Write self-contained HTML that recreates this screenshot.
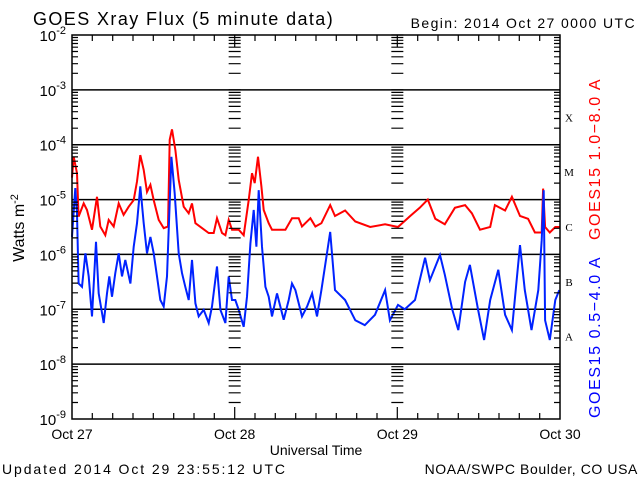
<!DOCTYPE html>
<html><head><meta charset="utf-8"><style>
body{margin:0;background:#fff;}
svg{display:block;font-family:"Liberation Sans",sans-serif;}
</style></head><body>
<svg id="chart" width="640" height="480" viewBox="0 0 640 480" xmlns="http://www.w3.org/2000/svg">
<rect width="640" height="480" fill="#fff"/>
<text x="33" y="25" font-size="18" letter-spacing="1.4">GOES Xray Flux (5 minute data)</text>
<text x="636" y="28" font-size="14" letter-spacing="1.4" text-anchor="end">Begin:  2014 Oct 27 0000 UTC</text>
<g id="grid"></g>
<g id="series"></g>
<g id="axes"></g>
<text transform="translate(24,228) rotate(-90)" font-size="16" text-anchor="middle">Watts m<tspan dy="-6" font-size="11">-2</tspan></text>
<text x="316" y="455" font-size="14" text-anchor="middle">Universal Time</text>
<text x="2" y="474" font-size="14" letter-spacing="1.9">Updated 2014 Oct 29 23:55:12 UTC</text>
<text x="638" y="474" font-size="14" letter-spacing="0.6" text-anchor="end">NOAA/SWPC Boulder, CO USA</text>
<text transform="translate(600,240) rotate(-90)" font-size="16" letter-spacing="1.6" fill="#ff0000">GOES15 1.0−8.0 A</text>
<text transform="translate(600,418) rotate(-90)" font-size="16" letter-spacing="1.6" fill="#0000ff">GOES15 0.5−4.0 A</text>
</svg>
<script>
const dayLabels = ["Oct 27","Oct 28","Oct 29","Oct 30"];
const decadeExps = [-2,-3,-4,-5,-6,-7,-8,-9];
const classLabels = ["X","M","C","B","A"];
const classExps = [-4,-5,-6,-7,-8];
const redHours = [0,0.25,0.74,0.98,1.72,2.21,2.95,3.69,4.18,4.92,5.41,6.15,6.89,7.62,8.36,9.1,9.59,10.08,10.58,11.07,11.56,12.05,12.79,13.53,14.17,14.41,14.76,15.25,15.74,16.48,17.22,17.71,18.2,19.18,20.17,20.9,21.4,22.13,22.63,23.12,23.61,24.59,25.33,26.07,26.56,26.95,27.45,27.94,28.28,29.02,29.51,30.5,31.48,32.46,33.45,33.94,35.17,35.91,36.79,38.1,38.8,40.3,41.8,44,46.2,48.1,49.9,51.3,52.5,53.6,55,56.5,58,59,60.2,61.7,62.4,63.9,64.9,66.1,67.3,68.3,69.3,69.5,69.8,70.5,71.3,72];
const redLog = [-4.6,-4.22,-4.52,-5.31,-5.07,-5.19,-5.55,-4.95,-5.49,-5.65,-5.37,-5.49,-5.07,-5.28,-5.13,-5.01,-4.67,-4.19,-4.46,-4.86,-4.73,-5.01,-5.37,-5.52,-5.49,-3.91,-3.72,-4.10,-4.64,-5.13,-5.25,-5.07,-5.43,-5.52,-5.61,-5.61,-5.34,-5.61,-5.65,-5.37,-5.55,-5.55,-5.65,-5.01,-4.52,-4.70,-4.22,-4.76,-5.19,-5.43,-5.55,-5.55,-5.55,-5.34,-5.34,-5.49,-5.34,-5.49,-5.43,-5.1,-5.3,-5.2,-5.4,-5.5,-5.45,-5.5,-5.3,-5.15,-5.0,-5.35,-5.45,-5.15,-5.1,-5.25,-5.55,-5.5,-5.1,-5.2,-4.95,-5.3,-5.35,-5.6,-5.6,-4.8,-5.5,-5.6,-5.5,-5.5];
const blueHours = [0,0.49,0.74,0.98,1.48,1.97,2.46,2.95,3.54,3.94,4.67,5.16,5.51,5.9,6.39,6.89,7.38,7.87,8.61,9.1,9.59,10.08,10.58,11.07,11.56,12.05,12.54,13.03,13.53,14.02,14.26,14.66,15.15,15.74,16.23,16.72,17.22,17.71,18.2,18.69,19.43,20.17,20.66,21.4,21.89,22.63,23.12,23.61,24.1,24.59,25.33,25.82,26.32,26.81,27.2,27.55,28.04,28.53,29.02,29.51,30.25,31.23,31.97,32.46,32.96,33.94,34.68,35.42,36.15,36.79,38.1,38.8,40.3,41.8,43.2,44.7,46.2,46.9,48.1,49.1,50.6,52.1,52.8,54.3,55,56.1,57,58,58.7,59.9,60.8,61.7,62.9,63.9,64.9,66.1,66.8,67.8,68.8,69.3,69.6,69.8,70.5,71.3,71.9];
const blueLog = [-5.68,-4.79,-5.25,-6.53,-6.59,-5.98,-6.40,-7.13,-5.77,-6.71,-7.25,-6.71,-6.40,-6.77,-6.34,-5.98,-6.40,-6.10,-6.53,-5.86,-5.43,-4.76,-5.43,-5.98,-5.68,-5.98,-6.40,-6.83,-6.95,-6.40,-5.55,-4.22,-4.89,-5.98,-6.34,-6.59,-6.83,-6.10,-6.89,-7.13,-7.01,-7.25,-6.95,-6.22,-7.01,-7.25,-6.40,-6.83,-6.83,-7.01,-7.32,-6.77,-5.80,-5.19,-5.86,-4.83,-5.86,-6.59,-6.77,-7.13,-6.71,-7.19,-6.83,-6.53,-6.65,-7.13,-6.95,-6.71,-7.13,-6.65,-5.59,-6.65,-6.83,-7.2,-7.29,-7.1,-6.65,-7.2,-6.92,-7.0,-6.83,-6.06,-6.47,-6.01,-6.37,-7.0,-7.38,-6.5,-6.19,-7.0,-7.56,-6.83,-6.28,-7.1,-7.38,-5.83,-6.65,-7.38,-6.65,-5.74,-4.83,-7.2,-7.56,-6.83,-6.65];

const X0=72,X1=560,Y0=35,Y1=419;
const xS=h=>X0+(h/72)*(X1-X0);
const yS=l=>Y0+(-2-l)/7*(Y1-Y0);
const NS="http://www.w3.org/2000/svg";
function mk(tag,attrs,parent){const e=document.createElementNS(NS,tag);for(const k in attrs)e.setAttribute(k,attrs[k]);parent.appendChild(e);return e;}
const grid=document.getElementById('grid'),axes=document.getElementById('axes'),ser=document.getElementById('series');

decadeExps.forEach(ex=>{
  if(ex<-2&&ex>-9){const l=mk('line',{x1:X0,x2:X1,y1:yS(ex),y2:yS(ex),stroke:'#000','stroke-width':1.5},grid);
  
  }
  const t=mk('text',{x:X0-6,y:yS(ex)+6,'font-size':15,'text-anchor':'end'},axes);
  
  
  t.innerHTML='10<tspan dy="-7" font-size="11">'+ex+'</tspan>';
});
let tp='';
for(let d=-3;d>=-9;d--){for(let m=2;m<=9;m++){const y=yS(d+Math.log10(m)).toFixed(1);
  tp+=`M${X0} ${y}h6M${X1} ${y}h-6M${xS(24)-6} ${y}h12M${xS(48)-6} ${y}h12`;}
  const y=yS(d+1).toFixed(1);tp+=`M${xS(24)-6} ${y}h12M${xS(48)-6} ${y}h12`;}
for(let h=3;h<72;h+=3){const x=xS(h).toFixed(1);const L=(h%24===0)?12:6;tp+=`M${x} ${Y1}v-${L}M${x} ${Y0}v${L}`;}
const tk=mk('path',{d:tp,stroke:'#000','stroke-width':1.2,fill:'none'},axes);


const fr=mk('rect',{x:X0,y:Y0,width:X1-X0,height:Y1-Y0,fill:'none',stroke:'#000','stroke-width':1.5},axes);


dayLabels.forEach((d,i)=>{const t=mk('text',{x:xS(i*24),y:439,'font-size':14,'text-anchor':'middle'},axes);t.textContent=d;
  
  });
classLabels.forEach((c,i)=>{const t=mk('text',{x:569,y:yS(classExps[i]+0.5)+4,'font-size':11,'font-family':'Liberation Serif,serif','text-anchor':'middle'},axes);t.textContent=c;
  
  });
function line(hs,ls,col,name){let p='';hs.forEach((h,i)=>{p+=(i?'L':'M')+xS(h).toFixed(1)+' '+yS(ls[i]).toFixed(1);});
  const e=mk('path',{d:p,stroke:col,'stroke-width':2,fill:'none','stroke-linejoin':'miter'},ser);
  
  }
line(redHours,redLog,'#ff0000','series-long-1-8A');
line(blueHours,blueLog,'#0022ff','series-short-0.5-4A');
</script>
</body></html>
